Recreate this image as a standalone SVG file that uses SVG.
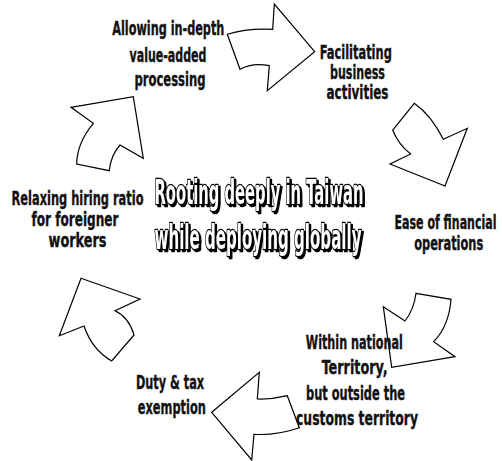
<svg xmlns="http://www.w3.org/2000/svg" width="502" height="461" viewBox="0 0 502 461">
<style>
.arrow{fill:#fff;stroke:#000;stroke-width:1.2;stroke-linejoin:miter}
.lbl{font-family:"DejaVu Sans","Liberation Sans",sans-serif;font-stretch:condensed;font-style:normal;font-weight:bold;font-size:19px;fill:#111;stroke:#111;stroke-width:0.35;text-anchor:middle}
.title{font-family:"DejaVu Sans","Liberation Sans",sans-serif;font-style:normal;font-weight:bold;font-size:33px;fill:#fff;stroke:#000;stroke-width:2.6;stroke-linejoin:round;paint-order:stroke}
</style>
<defs>
<filter id="shadow" x="-10%" y="-30%" width="120%" height="170%">
<feOffset in="SourceAlpha" dx="2" dy="2" result="off"/>
<feMerge><feMergeNode in="off"/><feMergeNode in="SourceGraphic"/></feMerge>
</filter>
</defs>
<rect width="502" height="461" fill="#fff"/>
<g id="connectors">
<path class="arrow" d="M227.3,34.3 Q246,28.2 272.7,29.3 L274.3,4 L314.7,51.7 L267.3,90.7 L269.3,65.7 Q252,62.5 240,69.3 Z"/>
<path class="arrow" d="M414.3,103.3 Q431.2,115.3 443.3,139.3 L467.3,128.3 L445,186 L390,164 L410.7,154 Q398.3,144.6 392.7,130 Z"/>
<path class="arrow" d="M416,293.3 L451,299.3 Q449,326 433.7,341.7 L455,356.7 L391.7,367.3 L383.3,306.7 L405,321 Q414,309.5 416,293.3 Z"/>
<path class="arrow" d="M211.7,412.3 L259.3,372.3 L257.3,399 Q272,399.5 287.3,395.7 L299.3,427.7 Q276.7,435.6 254,434.3 L251.7,460 Z"/>
<path class="arrow" d="M81,278.3 L140,299 L115,310.7 Q128.9,317.1 134,335 L111.7,361 Q92.2,349.9 84,326 L59.3,335.7 Z"/>
<path class="arrow" d="M71,107.3 L133.3,96.7 L143.3,158.3 L120,145 Q110.7,155.5 109.3,170.7 L76.7,164 Q77,142.9 93.3,123.3 Z"/>
</g>
<g id="node-center" filter="url(#shadow)">
<text class="title" x="154.5" y="204" textLength="209" lengthAdjust="spacingAndGlyphs">Rooting deeply in Taiwan</text>
<text class="title" x="154.5" y="249" textLength="207" lengthAdjust="spacingAndGlyphs">while deploying globally</text>
</g>
<g id="node-processing">
<text class="lbl" x="168.3" y="34.5" textLength="112" lengthAdjust="spacingAndGlyphs">Allowing in-depth</text>
<text class="lbl" x="168" y="62" textLength="77" lengthAdjust="spacingAndGlyphs">value-added</text>
<text class="lbl" x="170" y="86" textLength="71" lengthAdjust="spacingAndGlyphs">processing</text>
</g>
<g id="node-business">
<text class="lbl" x="355.8" y="59" textLength="72" lengthAdjust="spacingAndGlyphs">Facilitating</text>
<text class="lbl" x="357.5" y="79" textLength="55" lengthAdjust="spacingAndGlyphs">business</text>
<text class="lbl" x="357.5" y="98.5" textLength="62" lengthAdjust="spacingAndGlyphs">activities</text>
</g>
<g id="node-financial">
<text class="lbl" x="445.5" y="228.5" textLength="102" lengthAdjust="spacingAndGlyphs">Ease of financial</text>
<text class="lbl" x="448.7" y="250" textLength="69" lengthAdjust="spacingAndGlyphs">operations</text>
</g>
<g id="node-territory">
<text class="lbl" x="354.3" y="348.5" textLength="97" lengthAdjust="spacingAndGlyphs">Within national</text>
<text class="lbl" x="354.7" y="374" textLength="66" lengthAdjust="spacingAndGlyphs">Territory,</text>
<text class="lbl" x="355.5" y="400" textLength="99" lengthAdjust="spacingAndGlyphs">but outside the</text>
<text class="lbl" x="357" y="425" textLength="122" lengthAdjust="spacingAndGlyphs">customs territory</text>
</g>
<g id="node-duty">
<text class="lbl" x="170" y="388.5" textLength="68" lengthAdjust="spacingAndGlyphs">Duty &amp; tax</text>
<text class="lbl" x="171.8" y="413.5" textLength="68" lengthAdjust="spacingAndGlyphs">exemption</text>
</g>
<g id="node-hiring">
<text class="lbl" x="77.5" y="205" textLength="132" lengthAdjust="spacingAndGlyphs">Relaxing hiring ratio</text>
<text class="lbl" x="75" y="225.5" textLength="87" lengthAdjust="spacingAndGlyphs">for foreigner</text>
<text class="lbl" x="77.5" y="246.5" textLength="58" lengthAdjust="spacingAndGlyphs">workers</text>
</g>
</svg>
